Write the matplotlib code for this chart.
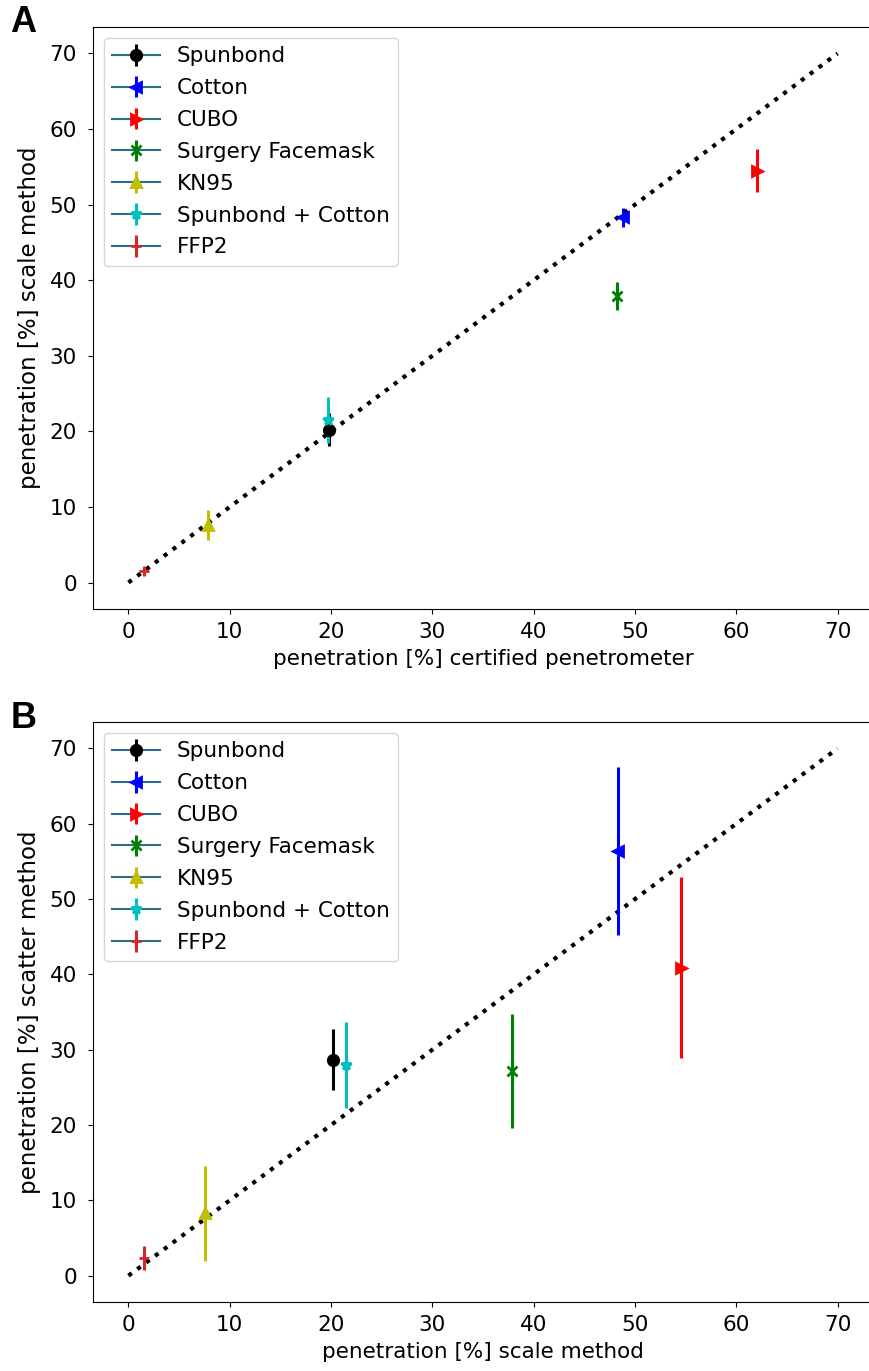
import numpy as np
import matplotlib
matplotlib.use("Agg")
import matplotlib.pyplot as plt

labels = ["Spunbond", "Cotton", "CUBO", "Surgery Facemask", "KN95",
          "Spunbond + Cotton", "FFP2"]
markers = ["o", "<", ">", "x", "^", "*", "+"]
colors = ["k", "b", "r", "g", "y", "c", "tab:red"]

# penetration [%] certified penetrometer
cert = [19.8, 48.8, 62.0, 48.2, 7.9, 19.7, 1.5]
# penetration [%] scale method (mean, error)
scale = [20.2, 48.3, 54.5, 37.9, 7.6, 21.5, 1.5]
scale_err = [2.2, 1.3, 2.8, 1.8, 2.0, 3.0, 0.5]
# penetration [%] scatter method (mean, error)
scatter = [28.7, 56.4, 40.9, 27.2, 8.3, 28.0, 2.4]
scatter_err = [4.1, 11.2, 12.0, 7.6, 6.3, 5.7, 1.6]

plt.rcParams['font.size'] = 15.5
plt.rcParams['xtick.major.pad'] = 6
plt.rcParams['ytick.major.pad'] = 8

fig = plt.figure(figsize=(8.69, 13.71), dpi=100)
axA = fig.add_axes([0.107, 0.5558, 0.8976, 0.4245])
axB = fig.add_axes([0.107, 0.0503, 0.8976, 0.4230])

line_col = '#2c6e8a'


def panel(ax, x, y, yerr, xlabel, ylabel):
    ax.plot([0, 70], [0, 70], 'k:', lw=3)
    for i in range(len(labels)):
        ax.errorbar(x[i], y[i], yerr=yerr[i], marker=markers[i], color=line_col,
                    mfc=colors[i], mec=colors[i], ecolor=colors[i],
                    ms=7.5, mew=2, elinewidth=2.2, capsize=0, label=labels[i])
    ax.set_xlim(-3.5, 73.5)
    ax.set_ylim(-3.5, 73.5)
    ax.set_xticks(np.arange(0, 71, 10))
    ax.set_yticks(np.arange(0, 71, 10))
    ax.set_xlabel(xlabel, labelpad=5)
    ax.set_ylabel(ylabel, fontsize=16.5, labelpad=6)
    ax.legend(loc='upper left', fontsize=15.5, labelspacing=0.55,
              handlelength=2.2)


panel(axA, cert, scale, scale_err,
      "penetration [%] certified penetrometer", "penetration [%] scale method")
panel(axB, scale, scatter, scatter_err,
      "penetration [%] scale method", "penetration [%] scatter method")

fig.text(0.012, 0.977, "A", fontsize=26, fontweight='bold', family='Liberation Sans')
fig.text(0.012, 0.469, "B", fontsize=26, fontweight='bold', family='Liberation Sans')

fig.savefig("out.png", dpi=100)
